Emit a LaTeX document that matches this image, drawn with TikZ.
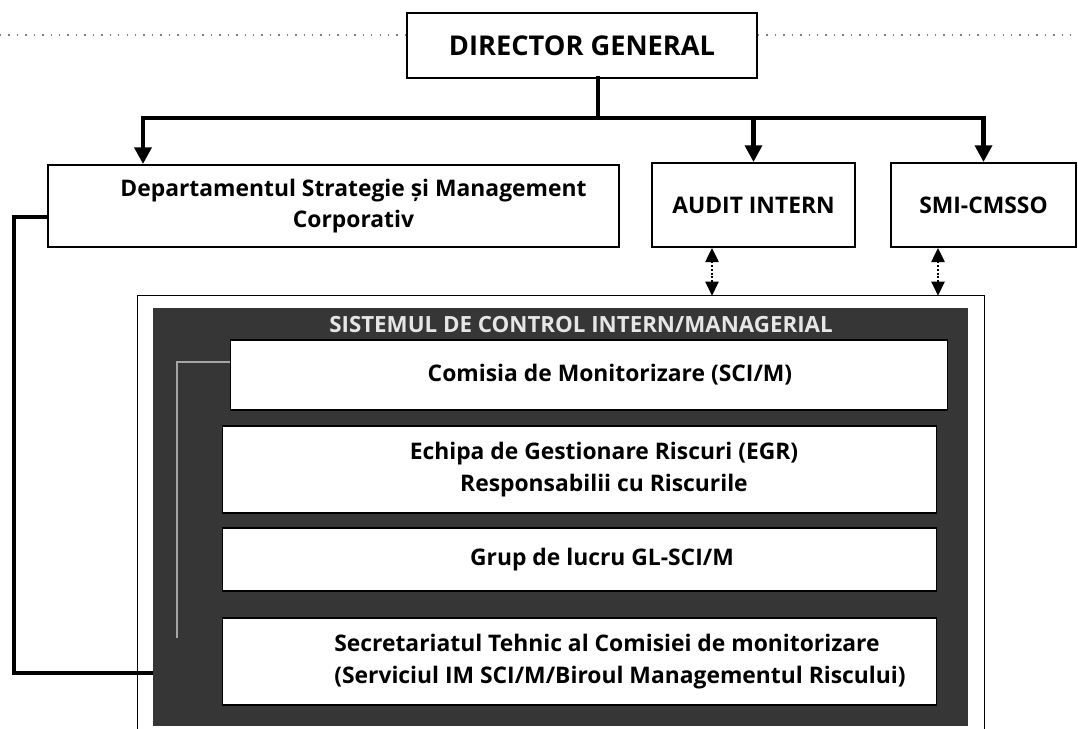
\documentclass[tikz,border=0pt]{standalone}
\usepackage{fontspec}
\setmainfont{Open Sans}
\usetikzlibrary{calc,arrows.meta,positioning}
\definecolor{framegray}{HTML}{363636}
\definecolor{titlewhite}{HTML}{E6E6E6}

\begin{document}
\begin{tikzpicture}[x=0.02cm,y=-0.02cm,every node/.style={align=center,font=\bfseries\fontsize{13}{18}\selectfont},
  box/.style={draw,line width=1.1pt,fill=white,inner sep=0pt},
  unit/.style={draw=black,line width=.6pt,fill=white,inner sep=0pt,minimum width=14.3cm},
  bus/.style={line width=2.8pt,line cap=rect},
  down/.style={line width=2.8pt,-{Triangle[length=9.5pt,width=9.5pt]}},
  link/.style={densely dotted,line width=1.1pt,{Triangle[length=8pt,width=7.5pt]}-{Triangle[length=8pt,width=7.5pt]}}]
\useasboundingbox (0,0) rectangle (1078,729);
\node[box,minimum width=7cm,minimum height=1.3cm,font=\bfseries\fontsize{15.5}{18}\selectfont] (dg) at (582,45.5) {DIRECTOR GENERAL};
\node[box,minimum width=11.42cm,minimum height=1.64cm,label={[xshift=.4cm]center:Departamentul Strategie și Management\\Corporativ}] (dept) at (333.5,206) {};
\node[box,minimum width=4.06cm,minimum height=1.68cm] (audit) at (753.5,205) {AUDIT INTERN};
\node[box,minimum width=3.7cm,minimum height=1.68cm] (smi) at (983.5,205) {SMI-CMSSO};
% sistemul de control intern
\node[minimum width=16.92cm,minimum height=8.66cm,inner sep=0pt] (sci) at (561,512.5) {};
\draw[line width=.8pt] (sci.south west) -- (sci.north west) -- (sci.north east) -- (sci.south east);
\node[fill=framegray,minimum width=16.3cm,minimum height=8.36cm,inner sep=0pt] (frame) at (560.5,517) {};
\node[text=titlewhite,font=\bfseries\fontsize{12.7}{15}\selectfont] (title) at (581,325) {SISTEMUL DE CONTROL INTERN/MANAGERIAL};
\node[unit,minimum width=14.36cm,minimum height=1.4cm,label={[xshift=.42cm]center:Comisia de Monitorizare (SCI/M)}] (com) at (589,375) {};
\node[unit,minimum height=1.74cm,label={[xshift=.49cm]center:Echipa de Gestionare Riscuri (EGR)\\Responsabilii cu Riscurile}] (egr) at (579.5,469.5) {};
\node[unit,minimum height=1.26cm,label={[xshift=.45cm]center:Grup de lucru GL-SCI/M}] (grp) at (579.5,559.5) {};
\node[unit,minimum height=1.74cm,label={[xshift=.81cm,align=left]center:Secretariatul Tehnic al Comisiei de monitorizare\\(Serviciul IM SCI/M/Biroul Managementul Riscului)}] (sec) at (579.5,661.5) {};
% connectors
\coordinate (dl) at (0,35);
\coordinate (dr) at (1078,35);
\draw[dash pattern=on .8pt off 4pt,line width=.8pt,gray] (dl) -- (dl -| dg.west);
\draw[dash pattern=on .8pt off 4pt,line width=.8pt,gray] (dg.east |- dr) -- (dr);
\coordinate (hub) at (598,118);
\coordinate (tdept) at (143,118);
\draw[bus] (dg.south -| hub) -- (hub);
\draw[bus] (tdept) -- (hub -| smi);
\draw[down] (tdept) -- (tdept |- dept.north);
\draw[down] (hub -| audit) -- (audit.north);
\draw[down] (hub -| smi) -- (smi.north);
\coordinate (la) at (712,0);
\coordinate (lb) at (938,0);
\draw[link] (audit.south -| la) -- (sci.north -| la);
\draw[link] (smi.south -| lb) -- (sci.north -| lb);
\coordinate (bend) at (14,673);
\draw[line width=2.8pt,line join=miter] ([yshift=-.22cm]dept.west) -| (bend) -- (bend -| frame.west);
\coordinate (tail) at (177,638);
\draw[line width=1pt,gray!70] ([yshift=.26cm]com.west) -| (tail);
\end{tikzpicture}
\end{document}
